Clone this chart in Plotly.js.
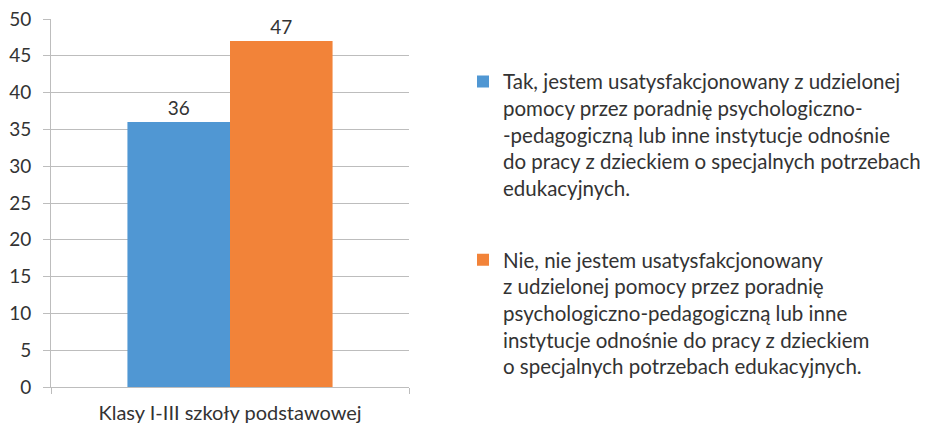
<!DOCTYPE html>
<html><head><meta charset="utf-8">
<script src="https://cdn.plot.ly/plotly-3.0.1.min.js"></script>
<style>html,body{margin:0;padding:0;background:#fff;}#chart{width:926px;height:425px;}</style>
</head><body><div id="chart"></div>
<script>
const categories = ["Klasy I-III szkoły podstawowej"];
const seriesNames = [
  "Tak, jestem usatysfakcjonowany z udzielonej<br>pomocy przez poradnię psychologiczno-<br>-pedagogiczną lub inne instytucje odnośnie<br>do pracy z dzieckiem o specjalnych potrzebach<br>edukacyjnych.",
  "Nie, nie jestem usatysfakcjonowany<br>z udzielonej pomocy przez poradnię<br>psychologiczno-pedagogiczną lub inne<br>instytucje odnośnie do pracy z dzieckiem<br>o specjalnych potrzebach edukacyjnych."
];
const tak = [36];
const nie = [47];
const yTicks = [0,5,10,15,20,25,30,35,40,45,50];

const font = "Lato, 'Open Sans', sans-serif";
const txt = "#333333";
const grid = "#bdbdbd";

const traces = [
  {type:'bar', x:categories, y:tak, name:seriesNames[0], legendgroup:'a',
   marker:{color:'#5097D3'}, text:tak.map(String), textposition:'outside',
   textfont:{size:19, color:txt, family:font}, cliponaxis:false, hoverinfo:'none'},
  {type:'bar', x:categories, y:nie, name:seriesNames[1], legendgroup:'b',
   marker:{color:'#F28339'}, text:nie.map(String), textposition:'outside',
   textfont:{size:19, color:txt, family:font}, cliponaxis:false, hoverinfo:'none'}
];

const layout = {
  width:926, height:425,
  margin:{l:51, r:517, t:19, b:38, pad:0},
  paper_bgcolor:'#fff', plot_bgcolor:'#fff',
  font:{family:font, color:txt},
  barmode:'group', bargap:0.427, bargroupgap:0,
  showlegend:true,
  legend:{xref:'container', yref:'container', x:0.5, y:0.855, xanchor:'left', yanchor:'top',
          valign:'top', traceorder:'grouped', tracegroupgap:42, maxheight:420,
          font:{size:20.5, color:txt, family:font}, itemwidth:30, bgcolor:'rgba(0,0,0,0)'},
  xaxis:{type:'category', showline:true, linecolor:grid, linewidth:1,
         ticks:'outside', tickson:'boundaries', ticklen:6, tickcolor:grid,
         tickfont:{size:20, color:txt, family:font}, showgrid:false, fixedrange:true,
         ticklabelstandoff:8},
  yaxis:{range:[0,50], tickvals:yTicks, showgrid:true, gridcolor:grid, gridwidth:1,
         showline:true, linecolor:grid, ticks:'outside', ticklen:7, tickcolor:grid,
         tickfont:{size:19, color:txt, family:font}, zeroline:false, fixedrange:true,
         ticklabelstandoff:8}
};

Plotly.newPlot('chart', traces, layout, {displayModeBar:false, staticPlot:true});
</script></body></html>
